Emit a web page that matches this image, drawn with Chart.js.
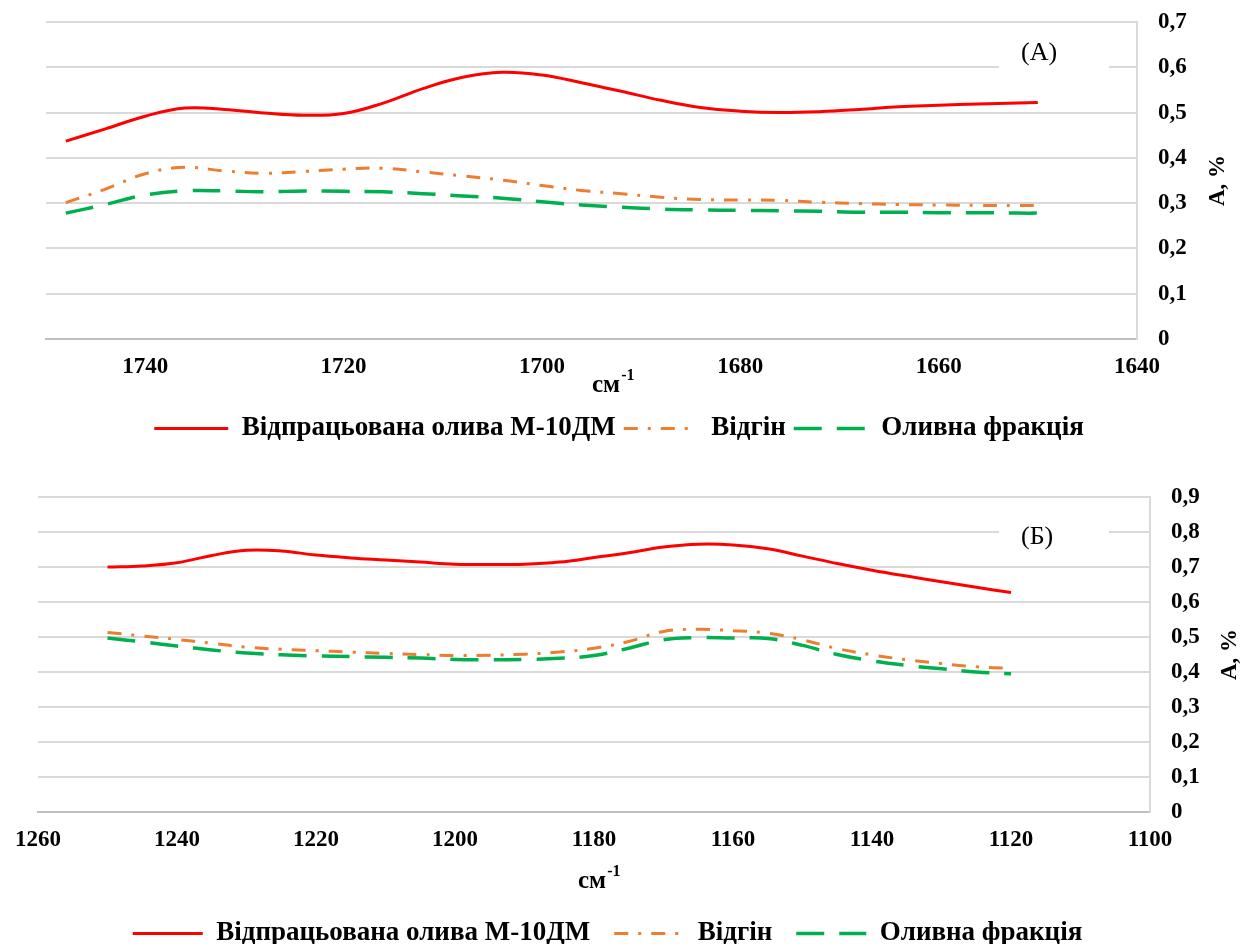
<!DOCTYPE html>
<html>
<head>
<meta charset="utf-8">
<script src="https://cdn.jsdelivr.net/npm/chart.js@4.4.0/dist/chart.umd.min.js"></script>
<style>
  html, body { margin: 0; padding: 0; background: #fff; overflow: hidden; }
  .box { position: absolute; left: 0; width: 1243px; }
  #topBox { top: 0; height: 452px; }
  #bottomBox { top: 455px; height: 502px; }
</style>
</head>
<body>
<div class="box" id="topBox"><canvas id="chartA"></canvas></div>
<div class="box" id="bottomBox"><canvas id="chartB"></canvas></div>
<script>
const seriesNames = ["Відпрацьована олива М-10ДМ", "Відгін", "Оливна фракція"];

// (А) 1750-1640 cm-1
const wavenumbersA = [1748, 1744, 1740, 1736, 1732, 1728, 1724, 1720, 1716, 1712, 1708, 1704, 1700,
  1696, 1692, 1688, 1684, 1680, 1676, 1672, 1668, 1664, 1660, 1656, 1652, 1650];
const usedOilA = [0.437, 0.464, 0.492, 0.510, 0.507, 0.499, 0.494, 0.498, 0.521, 0.553, 0.578, 0.589, 0.583,
  0.566, 0.547, 0.527, 0.511, 0.503, 0.500, 0.502, 0.507, 0.513, 0.516, 0.519, 0.521, 0.522];
const distillateA = [0.301, 0.331, 0.365, 0.379, 0.371, 0.366, 0.370, 0.375, 0.377, 0.369, 0.360, 0.351, 0.339,
  0.328, 0.321, 0.313, 0.308, 0.307, 0.306, 0.302, 0.299, 0.297, 0.296, 0.295, 0.295, 0.295];
const oilFractionA = [0.278, 0.297, 0.318, 0.327, 0.327, 0.325, 0.327, 0.326, 0.325, 0.321, 0.316, 0.311, 0.303,
  0.296, 0.291, 0.287, 0.285, 0.284, 0.283, 0.282, 0.280, 0.280, 0.279, 0.279, 0.278, 0.278];
const xTicksA = [1740, 1720, 1700, 1680, 1660, 1640];
const yTicksA = [0, 0.1, 0.2, 0.3, 0.4, 0.5, 0.6, 0.7];

// (Б) 1260-1100 cm-1
const wavenumbersB = [1250, 1245, 1240, 1235, 1230, 1225, 1220, 1215, 1210, 1205, 1200, 1195, 1190, 1185,
  1180, 1175, 1170, 1165, 1160, 1155, 1150, 1145, 1140, 1135, 1130, 1125, 1120];
const usedOilB = [0.700, 0.703, 0.712, 0.733, 0.748, 0.746, 0.734, 0.726, 0.720, 0.714, 0.708, 0.707, 0.708, 0.714,
  0.727, 0.741, 0.757, 0.765, 0.763, 0.752, 0.731, 0.710, 0.691, 0.674, 0.658, 0.642, 0.627];
const distillateB = [0.513, 0.503, 0.493, 0.482, 0.471, 0.465, 0.461, 0.457, 0.453, 0.450, 0.447, 0.448, 0.451, 0.457,
  0.468, 0.487, 0.516, 0.522, 0.518, 0.511, 0.492, 0.467, 0.449, 0.435, 0.424, 0.415, 0.410];
const oilFractionB = [0.497, 0.486, 0.474, 0.463, 0.454, 0.449, 0.446, 0.444, 0.442, 0.440, 0.436, 0.435, 0.436, 0.439,
  0.447, 0.468, 0.492, 0.498, 0.497, 0.496, 0.476, 0.450, 0.432, 0.419, 0.409, 0.400, 0.395];
const xTicksB = [1260, 1240, 1220, 1200, 1180, 1160, 1140, 1120, 1100];
const yTicksB = [0, 0.1, 0.2, 0.3, 0.4, 0.5, 0.6, 0.7, 0.8, 0.9];

const SERIF = "'Liberation Serif', 'Times New Roman', serif";

// extra texts: axis titles and panel tag; also nudges the legend sideways
const extraText = {
  id: "extraText",
  afterLayout(chart, args, opts) {
    if (chart.legend && opts.legendShift) {
      chart.legend.left += opts.legendShift;
      chart.legend.right += opts.legendShift;
    }
  },
  afterDraw(chart, args, opts) {
    const ctx = chart.ctx;
    const area = chart.chartArea;
    ctx.save();
    // panel tag with white box over the grid line
    ctx.fillStyle = "#fff";
    ctx.fillRect(opts.tagBox[0], opts.tagBox[1], opts.tagBox[2], opts.tagBox[3]);
    ctx.fillStyle = "#000";
    ctx.font = "26px " + SERIF;
    ctx.textAlign = "left";
    ctx.textBaseline = "middle";
    ctx.fillText(opts.tag, opts.tagX, opts.tagY);

    // x title: см^-1
    ctx.font = "bold 25px " + SERIF;
    ctx.fillText("см", opts.xTitleX, opts.xTitleY);
    const w = ctx.measureText("см").width;
    ctx.font = "bold 16px " + SERIF;
    ctx.fillText("-1", opts.xTitleX + w + 1, opts.xTitleY - 10);

    // y title, reading bottom to top
    ctx.font = "bold 23px " + SERIF;
    ctx.translate(area.right + opts.yTitleOffset, (area.top + area.bottom) / 2);
    ctx.rotate(-Math.PI / 2);
    ctx.textAlign = "center";
    ctx.fillText("А, %", 0, 0);
    ctx.restore();
  }
};

function makeChart(canvasId, xs, values, xTicks, yTicks, box, legendOpts, texts) {
  const styles = [
    { borderColor: "#ff0000", borderWidth: 3, borderDash: [] },
    { borderColor: "#ed7d31", borderWidth: 3, borderDash: [14, 10, 3, 10] },
    { borderColor: "#00b050", borderWidth: 3.5, borderDash: [28, 15] },
  ];
  const datasets = values.map((vals, i) => ({
    label: seriesNames[i],
    data: xs.map((x, j) => ({ x: x, y: vals[j] })),
    borderColor: styles[i].borderColor,
    backgroundColor: styles[i].borderColor,
    borderWidth: styles[i].borderWidth,
    borderDash: styles[i].borderDash,
    pointRadius: 0,
    tension: 0.4,
    fill: false,
  }));

  return new Chart(document.getElementById(canvasId).getContext("2d"), {
    type: "line",
    data: { datasets },
    plugins: [extraText],
    options: {
      responsive: true,
      maintainAspectRatio: false,
      animation: false,
      layout: {
        padding: { left: box.left, right: box.padRight, top: box.top, bottom: 0 },
      },
      scales: {
        x: {
          type: "linear",
          reverse: true,
          min: xTicks[xTicks.length - 1],
          max: box.xMax,
          afterBuildTicks: (scale) => {
            scale.ticks = xTicks.map((v) => ({ value: v }));
          },
          afterFit: (scale) => {
            const c = scale.chart;
            const lh = c.legend ? c.legend.height : 0;
            scale.height = c.height - lh - box.bottom;
          },
          grid: { display: false, drawTicks: false },
          border: { display: true, color: "#bfbfbf", width: 2 },
          ticks: {
            padding: 14,
            maxRotation: 0,
            autoSkip: false,
            color: "#000",
            font: { family: SERIF, size: 23, weight: "bold" },
            callback: (value) => String(value),
          },
        },
        y: {
          position: "right",
          min: 0,
          max: yTicks[yTicks.length - 1],
          afterBuildTicks: (scale) => {
            scale.ticks = yTicks.map((v) => ({ value: v }));
          },
          afterFit: (scale) => {
            scale.width = scale.chart.width - box.padRight - box.right;
            scale.paddingTop = 0;
            scale.paddingBottom = 0;
          },
          grid: { color: "#d9d9d9", lineWidth: 2, drawTicks: false },
          border: { display: true, color: "#d9d9d9", width: 2 },
          ticks: {
            padding: 21,
            color: "#000",
            font: { family: SERIF, size: 23, weight: "bold" },
            callback: (value) => String(value).replace(".", ","),
          },
        },
      },
      plugins: {
        legend: {
          position: "bottom",
          labels: {
            usePointStyle: true,
            pointStyle: "line",
            pointStyleWidth: legendOpts.lineWidth,
            padding: legendOpts.padding,
            color: "#000",
            font: { family: SERIF, size: 27, weight: "bold" },
            generateLabels: (chart) => {
              const items = Chart.defaults.plugins.legend.labels.generateLabels(chart);
              items.forEach((item) => {
                const ds = chart.data.datasets[item.datasetIndex];
                item.lineDash = ds.borderDash;
                item.lineWidth = ds.borderWidth;
                item.strokeStyle = ds.borderColor;
                item.pointStyle = "line";
              });
              return items;
            },
          },
        },
        tooltip: { enabled: false },
        extraText: texts,
      },
    },
  });
}

makeChart("chartA", wavenumbersA, [usedOilA, distillateA, oilFractionA], xTicksA, yTicksA,
  { left: 46, right: 1137, top: 22, bottom: 339, padRight: 51, xMax: 1750 },
  { padding: 8, lineWidth: 74 },
  { tag: "(А)", tagX: 1021, tagY: 53, tagBox: [999, 36, 110, 36],
    xTitleX: 592, xTitleY: 386, yTitleOffset: 81, legendShift: 0 });

makeChart("chartB", wavenumbersB, [usedOilB, distillateB, oilFractionB], xTicksB, yTicksB,
  { left: 38, right: 1150, top: 42, bottom: 357, padRight: 38, xMax: 1260 },
  { padding: 24, lineWidth: 70 },
  { tag: "(Б)", tagX: 1021, tagY: 82, tagBox: [999, 62, 110, 36],
    xTitleX: 578, xTitleY: 427, yTitleOffset: 80, legendShift: -14 });
</script>
</body>
</html>
